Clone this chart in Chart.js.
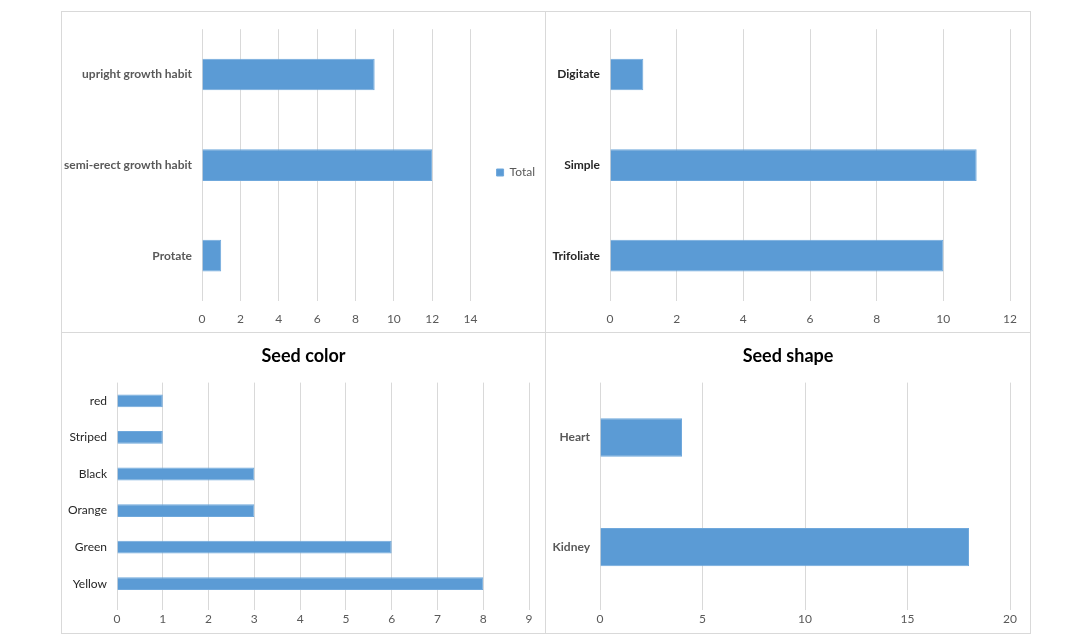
<!DOCTYPE html>
<html>
<head>
<meta charset="utf-8">
<script src="https://cdn.jsdelivr.net/npm/chart.js@4.4.1/dist/chart.umd.min.js"></script>
<style>
  html, body { margin: 0; padding: 0; background: #fff; }
  body { width: 1090px; height: 639px; position: relative; overflow: hidden; }
  .panel { position: absolute; box-sizing: border-box; }
  .panel canvas { position: absolute; left: 0; top: 0; }
  .frame { position: absolute; border: 1px solid #D9D9D9; box-sizing: border-box; }
</style>
</head>
<body>
<div class="frame" style="left:61px;top:11px;width:970px;height:623px;"></div>
<div class="frame" style="left:545px;top:11px;width:1px;height:623px;border-width:0 0 0 1px;"></div>
<div class="frame" style="left:61px;top:332px;width:970px;height:1px;border-width:1px 0 0 0;"></div>

<div class="panel" style="left:62px;top:12px;"><canvas id="habit" width="483" height="320"></canvas></div>
<div class="panel" style="left:546px;top:12px;"><canvas id="leaf" width="484" height="320"></canvas></div>
<div class="panel" style="left:62px;top:333px;"><canvas id="seedColor" width="483" height="300"></canvas></div>
<div class="panel" style="left:546px;top:333px;"><canvas id="seedShape" width="484" height="300"></canvas></div>

<script>
// ── DATA ──
const habitLabels = ['upright growth habit', 'semi-erect growth habit', 'Protate'];
const habitValues = [9, 12, 1];

const leafLabels  = ['Digitate', 'Simple', 'Trifoliate'];
const leafValues  = [1, 11, 10];

const colorLabels = ['red', 'Striped', 'Black', 'Orange', 'Green', 'Yellow'];
const colorValues = [1, 1, 3, 3, 6, 8];

const shapeLabels = ['Heart', 'Kidney'];
const shapeValues = [4, 18];

// ── STYLE ──
const BAR_BLUE  = '#5B9BD5';
const GRID_GRAY = '#D9D9D9';
const TEXT_GRAY = '#595959';
const FONT      = "Lato, 'Open Sans', sans-serif";

Chart.defaults.font.family = FONT;
Chart.defaults.animation = false;

// Excel centres the title over the whole panel, not over the axis block,
// and sits the legend a little higher than Chart.js does.
const panelLayout = {
    id: 'panelLayout',
    afterLayout(chart, args, opts) {
        const t = chart.titleBlock;
        if (t && t.options.display) { t.left = 0; t.right = chart.width; }
        const l = chart.legend;
        if (l && l.options.display && opts.legendDy) {
            l.top += opts.legendDy;
            l.bottom += opts.legendDy;
        }
    }
};

function makeChart(id, labels, values, cfg) {
    return new Chart(document.getElementById(id), {
        type: 'bar',
        plugins: [panelLayout],
        data: {
            labels: labels,
            datasets: [{
                label: 'Total',
                data: values,
                backgroundColor: BAR_BLUE,
                borderColor: '#6FA8DC',
                borderWidth: 1,
                barPercentage: 0.35,
                categoryPercentage: 1
            }]
        },
        options: {
            indexAxis: 'y',
            responsive: false,
            layout: { padding: cfg.padding },
            plugins: {
                panelLayout: { legendDy: -5 },
                legend: cfg.legend ? {
                    display: true,
                    position: 'right',
                    labels: {
                        boxWidth: 7, boxHeight: 7, padding: 26,
                        color: TEXT_GRAY,
                        font: { size: 12, family: FONT }
                    }
                } : { display: false },
                title: cfg.title ? {
                    display: true,
                    text: cfg.title,
                    color: '#000',
                    font: { size: 18, weight: 'bold', family: FONT },
                    padding: { top: 0, bottom: cfg.titleGap }
                } : { display: false },
                tooltip: { enabled: false }
            },
            scales: {
                x: {
                    min: 0,
                    max: cfg.max,
                    ticks: {
                        stepSize: cfg.step,
                        color: TEXT_GRAY,
                        padding: cfg.tickPad,
                        font: { size: 12 }
                    },
                    grid: {
                        color: GRID_GRAY, lineWidth: 1,
                        drawTicks: cfg.tickLen > 0, tickLength: cfg.tickLen
                    },
                    border: { display: false },
                    afterFit: (s) => { s.height = cfg.xHeight; }
                },
                y: {
                    ticks: {
                        color: cfg.labelColor,
                        padding: 10,
                        font: { size: 12, weight: cfg.labelWeight }
                    },
                    grid: { display: false, drawTicks: false },
                    border: { display: false },
                    afterFit: (s) => { s.width = cfg.yWidth; }
                }
            }
        }
    });
}

makeChart('habit', habitLabels, habitValues, {
    max: 14, step: 2, yWidth: 140, xHeight: 28, tickPad: 11, tickLen: 0,
    padding: { top: 14, right: 0, bottom: 3, left: 0 },
    labelColor: TEXT_GRAY, labelWeight: 'bold', legend: true
});

makeChart('leaf', leafLabels, leafValues, {
    max: 12, step: 2, yWidth: 64, xHeight: 28, tickPad: 11, tickLen: 0,
    padding: { top: 14, right: 20, bottom: 3, left: 0 },
    labelColor: '#262626', labelWeight: 'bold'
});

makeChart('seedColor', colorLabels, colorValues, {
    max: 9, step: 1, yWidth: 55, xHeight: 24, tickPad: 2, tickLen: 8,
    padding: { top: 12, right: 16, bottom: 7, left: 0 },
    labelColor: '#262626', labelWeight: 'normal',
    title: 'Seed color', titleGap: 16
});

makeChart('seedShape', shapeLabels, shapeValues, {
    max: 20, step: 5, yWidth: 54, xHeight: 24, tickPad: 2, tickLen: 8,
    padding: { top: 12, right: 20, bottom: 7, left: 0 },
    labelColor: TEXT_GRAY, labelWeight: 'bold',
    title: 'Seed shape', titleGap: 16
});
</script>
</body>
</html>
